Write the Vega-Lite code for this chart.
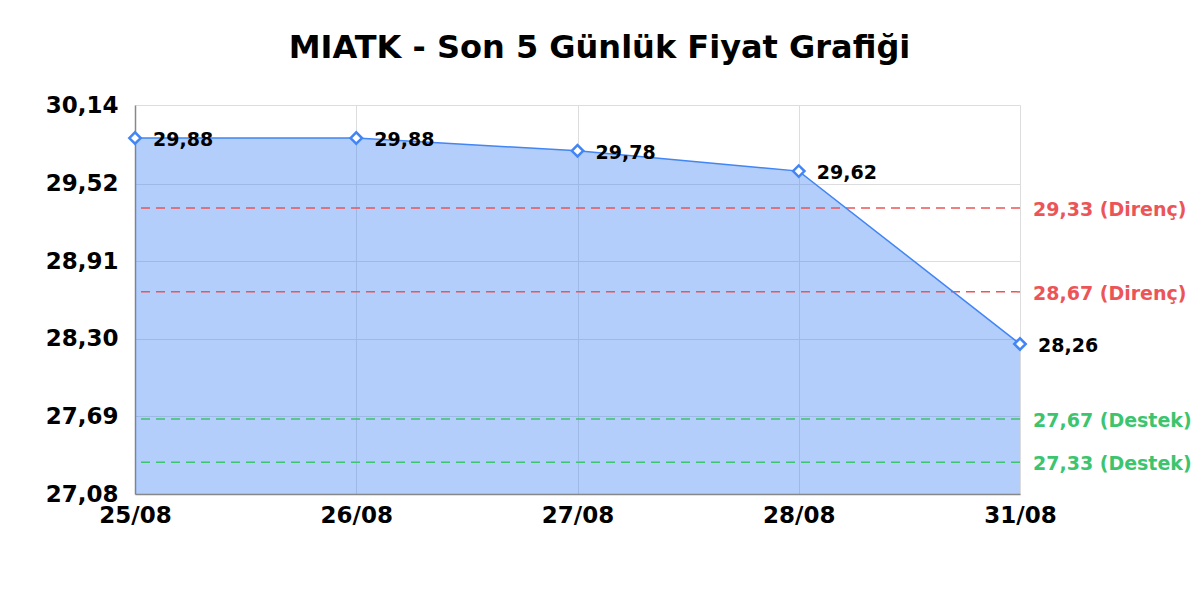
{
  "$schema": "https://vega.github.io/schema/vega-lite/v6.json",
  "width": 885,
  "height": 389,
  "autosize": "none",
  "padding": {"left": 135, "top": 105, "right": 180, "bottom": 106},
  "background": "white",
  "config": {
    "font": "DejaVu Sans",
    "locale": {"number": {"decimal": ",", "thousands": ".", "grouping": [3], "currency": ["", " ₺"]}},
    "view": {"stroke": null},
    "axis": {
      "labelFont": "DejaVu Sans",
      "labelFontWeight": "bold",
      "labelFontSize": 23,
      "labelColor": "black",
      "gridColor": "#dddddd",
      "gridWidth": 1,
      "domainColor": "#888888",
      "domainWidth": 1.5,
      "ticks": false,
      "title": null
    }
  },
  "title": {
    "text": "MIATK - Son 5 Günlük Fiyat Grafiği",
    "font": "DejaVu Sans",
    "fontSize": 32,
    "fontWeight": "bold",
    "color": "black",
    "anchor": "middle",
    "dx": 22,
    "offset": 29
  },
  "datasets": {
    "prices": [
      {"date": "25/08", "price": 29.88},
      {"date": "26/08", "price": 29.88},
      {"date": "27/08", "price": 29.78},
      {"date": "28/08", "price": 29.62},
      {"date": "31/08", "price": 28.26}
    ],
    "levels": [
      {"level": 29.33, "kind": "Direnç", "label": "29,33 (Direnç)"},
      {"level": 28.67, "kind": "Direnç", "label": "28,67 (Direnç)"},
      {"level": 27.67, "kind": "Destek", "label": "27,67 (Destek)"},
      {"level": 27.33, "kind": "Destek", "label": "27,33 (Destek)"}
    ]
  },
  "layer": [
    {
      "data": {"name": "prices"},
      "mark": {"type": "area", "color": "#4285f4", "opacity": 0.4, "line": false},
      "encoding": {
        "x": {
          "field": "date",
          "type": "ordinal",
          "sort": null,
          "scale": {"type": "point", "padding": 0},
          "axis": {"labelAngle": 0, "labelPadding": 10, "grid": true, "domain": true}
        },
        "y": {
          "field": "price",
          "type": "quantitative",
          "scale": {"domain": [27.08, 30.14], "nice": false, "zero": false},
          "axis": {
            "values": [27.08, 27.69, 28.30, 28.91, 29.52, 30.14],
            "format": ".2f",
            "labelPadding": 17,
            "grid": true
          }
        },
        "y2": {"datum": 27.08}
      }
    },
    {
      "data": {"name": "levels"},
      "mark": {"type": "rule", "strokeDash": [9, 6], "strokeWidth": 1.5},
      "encoding": {
        "y": {"field": "level", "type": "quantitative"},
        "color": {
          "field": "kind",
          "type": "nominal",
          "scale": {"domain": ["Direnç", "Destek"], "range": ["#ec5557", "#3cc46e"]},
          "legend": null
        }
      }
    },
    {
      "data": {"name": "levels"},
      "mark": {"type": "text", "align": "left", "baseline": "middle", "dx": 13, "dy": 2, "fontSize": 19, "fontWeight": "bold", "font": "DejaVu Sans"},
      "encoding": {
        "x": {"datum": "31/08", "type": "ordinal"},
        "y": {"field": "level", "type": "quantitative"},
        "text": {"field": "label"},
        "color": {"field": "kind", "type": "nominal", "legend": null}
      }
    },
    {
      "data": {"name": "prices"},
      "mark": {"type": "line", "color": "#4285f4", "strokeWidth": 1.5},
      "encoding": {
        "x": {"field": "date", "type": "ordinal", "sort": null},
        "y": {"field": "price", "type": "quantitative"}
      }
    },
    {
      "data": {"name": "prices"},
      "mark": {"type": "point", "shape": "diamond", "filled": true, "fill": "white", "stroke": "#4285f4", "strokeWidth": 2.5, "size": 130, "opacity": 1},
      "encoding": {
        "x": {"field": "date", "type": "ordinal", "sort": null},
        "y": {"field": "price", "type": "quantitative"}
      }
    },
    {
      "data": {"name": "prices"},
      "mark": {"type": "text", "align": "left", "baseline": "middle", "dx": 18, "dy": 2, "fontSize": 19, "fontWeight": "bold", "font": "DejaVu Sans", "color": "black"},
      "encoding": {
        "x": {"field": "date", "type": "ordinal", "sort": null},
        "y": {"field": "price", "type": "quantitative"},
        "text": {"field": "price", "type": "quantitative", "format": ".2f"}
      }
    }
  ]
}
